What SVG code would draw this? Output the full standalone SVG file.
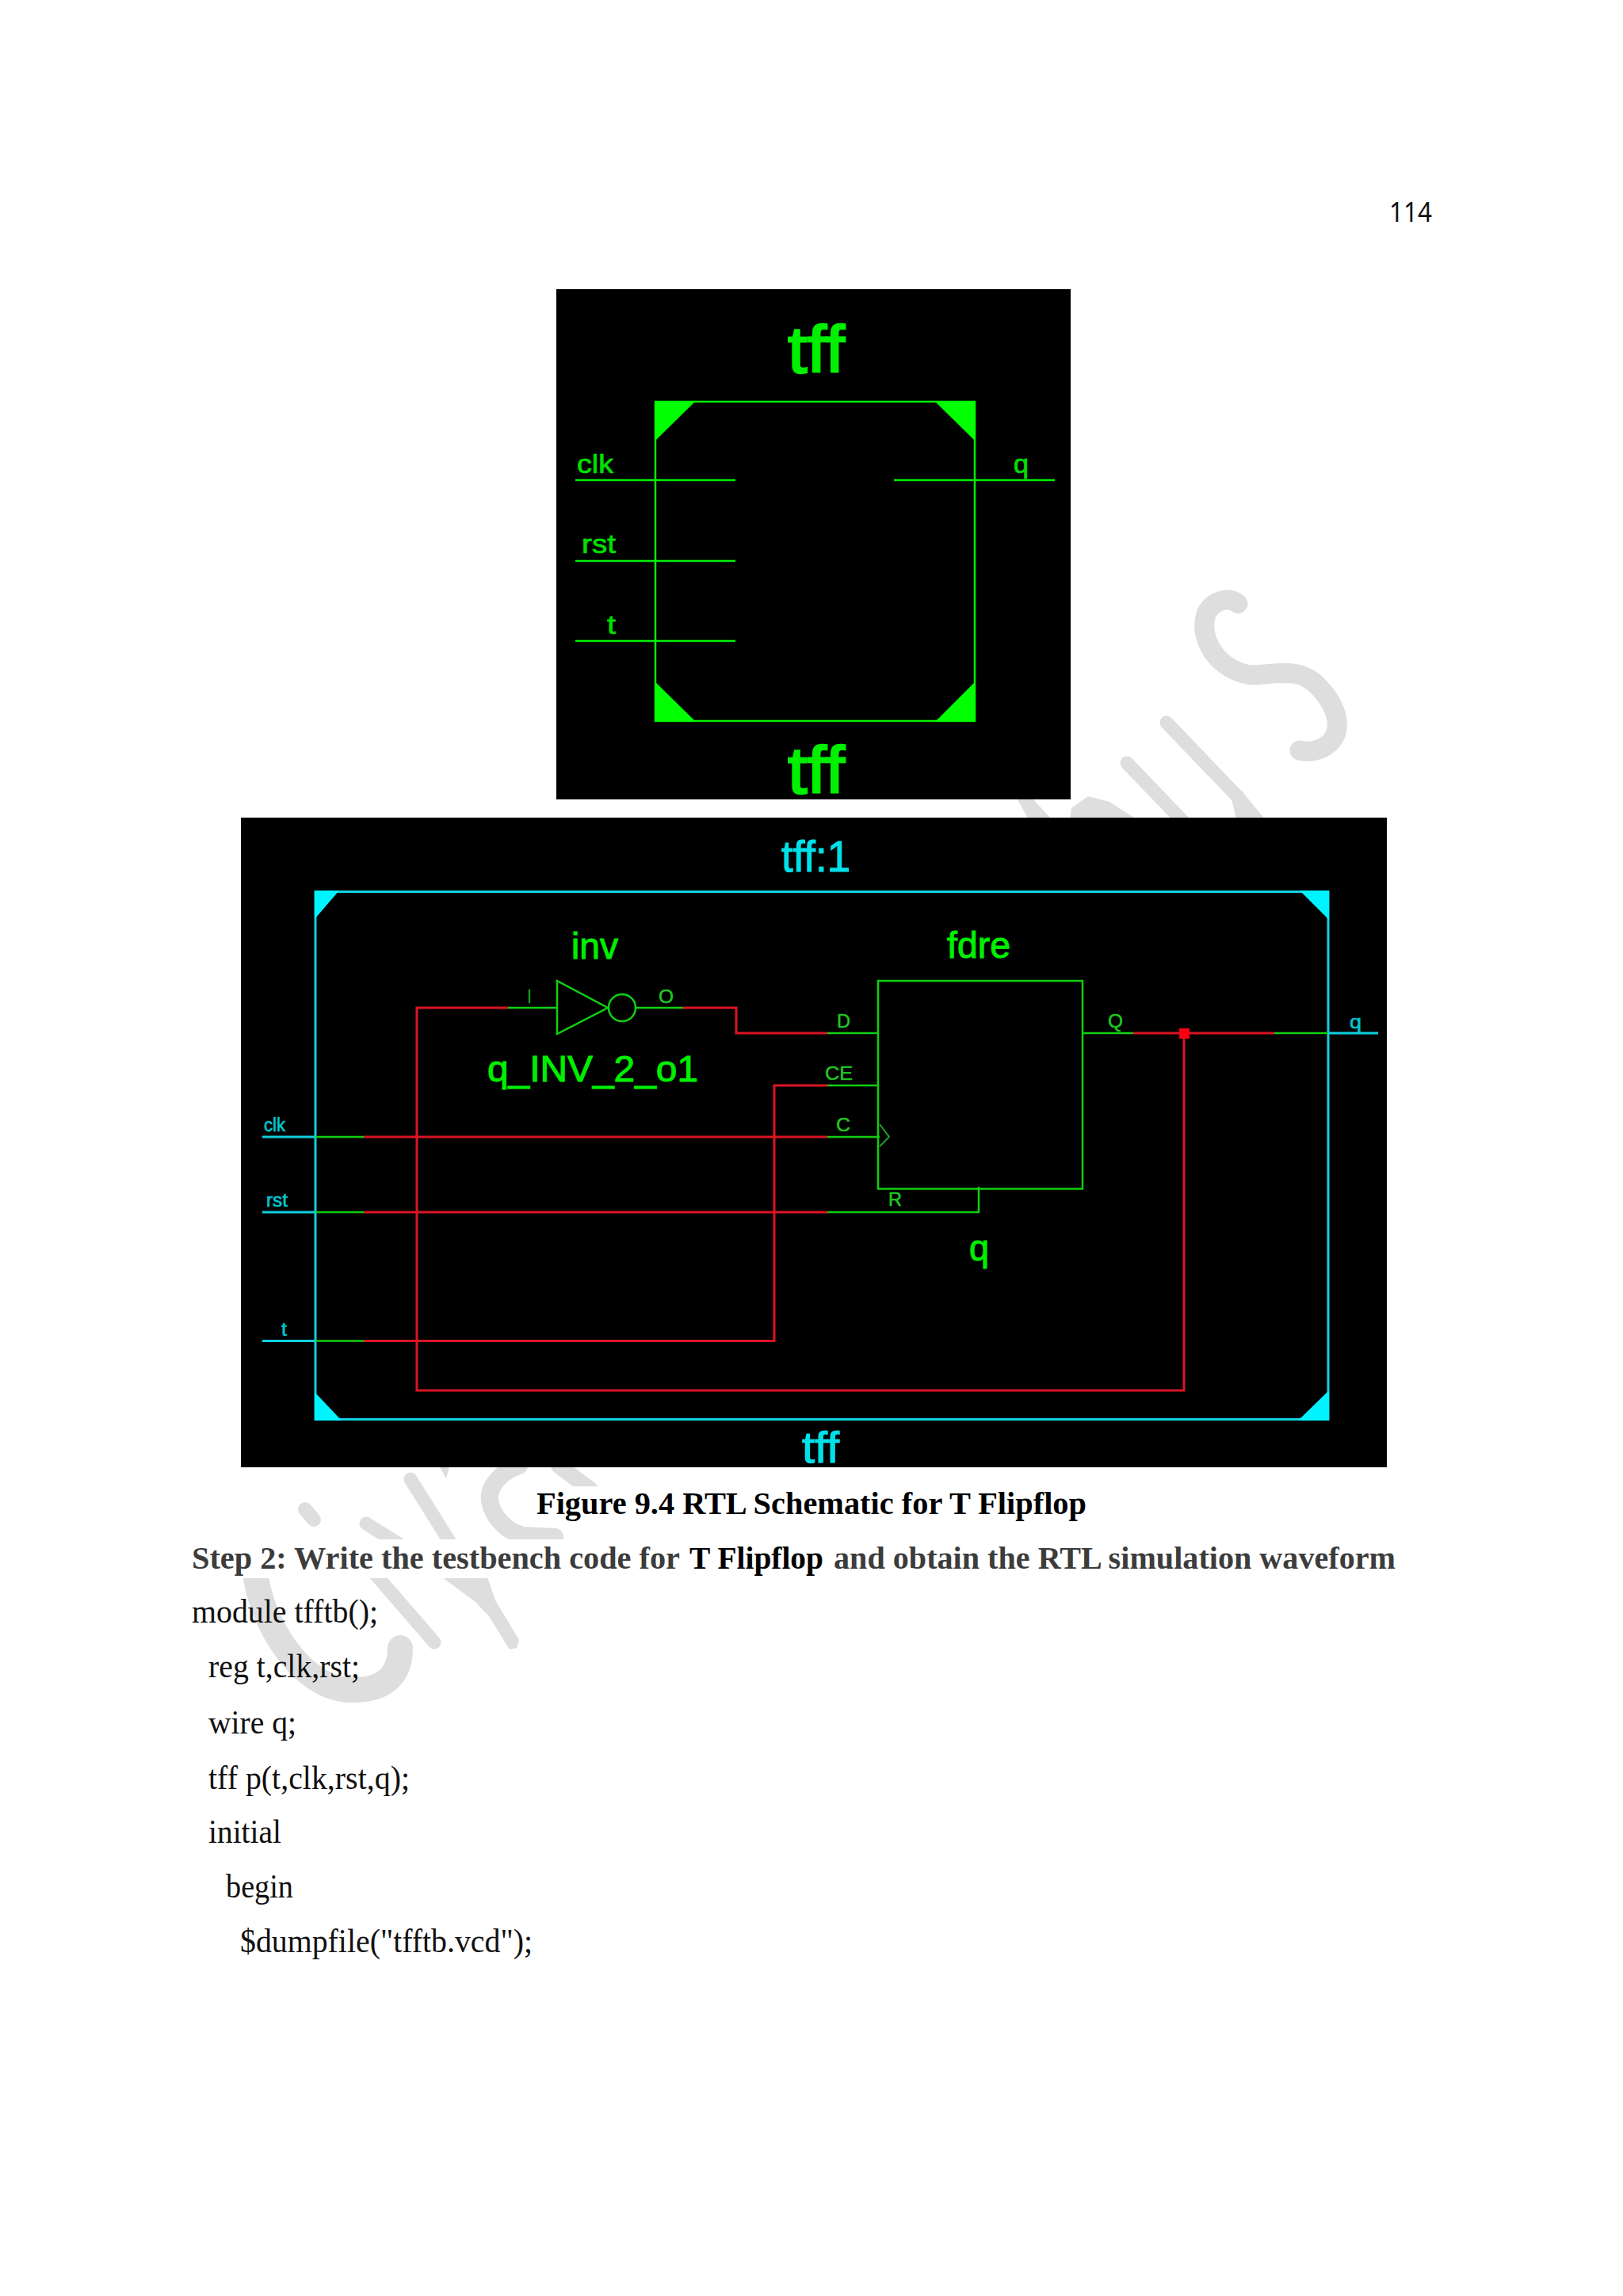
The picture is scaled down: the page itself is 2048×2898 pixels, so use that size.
<svg xmlns="http://www.w3.org/2000/svg" width="2048" height="2898" viewBox="0 0 2048 2898">
<style>
text{font-family:"Liberation Sans",Arial,sans-serif}
.wm{fill:none;stroke:#dedede;stroke-linecap:round;stroke-linejoin:round}
.wmf{fill:#dedede}
.g{fill:#00e000;stroke:#00e000;stroke-width:.7px}
.gb{fill:#00f000;stroke:#00f000;stroke-width:1px}
.big{stroke-width:2.5px}
.c{fill:#00e0e8;stroke:#00e0e8;stroke-width:1.2px}
.cs{fill:#00c8d0;stroke:#00c8d0;stroke-width:.6px}
.ls{fill:#20c820;stroke:#20c820;stroke-width:.5px}
.lg{fill:none;stroke:#10d010;stroke-width:2.5}
.lb{fill:none;stroke:#00f000;stroke-width:2.5}
.lc{fill:none;stroke:#10d0e0;stroke-width:3}
.lr{fill:none;stroke:#dc1424;stroke-width:3}
.fg{fill:#00ff00}
.fc{fill:#00f4ff}
.body{font-family:"Liberation Serif","Times New Roman",serif;font-size:42px;fill:#111}
.bold{font-family:"Liberation Serif","Times New Roman",serif;font-size:39px;font-weight:bold}
</style>
<rect width="2048" height="2898" fill="#fff"/>
<g id="watermark">
<path class="wm" stroke-width="25" d="M1562,762C1550,752 1530,758 1522,775C1512,805 1535,845 1578,852C1610,852 1640,840 1665,868C1690,895 1695,925 1675,940C1665,948 1650,950 1640,947"/>
<path class="wm" stroke-width="17" d="M1472,912L1563,1007L1590,1040M1562,1005L1570,1040"/>
<path class="wm" stroke-width="17" d="M1422,963L1496,1040"/>
<path class="wmf" d="M1350,1034L1352,1020L1373,1005L1400,1012L1434,1034Z"/>
<path class="wmf" d="M1283,1008L1303,1008L1327,1034L1298,1034Z"/>
<path class="wm" stroke-width="18" d="M385,1905L396,1918"/>
<path class="wm" stroke-width="17" d="M462,1923L505,1950M518,1867L570,1950M472,1985L548,2073"/>
<path class="wmf" d="M555,1852L567,1852L563,1866ZM550,1985L613,1985L625,2020L655,2070L652,2080L643,2082L617,2040L600,2022Z"/>
<path class="wm" stroke-width="22" d="M700,1940L660,1938C640,1934 622,1915 618,1895C615,1875 635,1856 655,1850"/>
<path class="wm" stroke-width="20" d="M705,1850L745,1880"/>
<path class="wm" stroke-width="32" d="M322,1985C330,2050 380,2130 440,2133C490,2135 505,2110 505,2080"/>
<rect x="675" y="1876" width="700" height="50" fill="#fff"/>
<rect x="238" y="1943" width="1530" height="49" fill="#fff"/>
</g>
<text id="page-number" x="1753" y="280" font-size="34" style="font-family:'Noto Sans',sans-serif" fill="#111" textLength="54" lengthAdjust="spacingAndGlyphs">114</text>

<g id="tff-symbol">
<rect x="702" y="365" width="649" height="644" fill="#000"/>
<rect class="lb" x="827" y="507" width="403" height="403"/>
<path class="fg" d="M826,506H878L826,557ZM1231,506H1179L1231,557ZM826,911H878L826,860ZM1231,911H1180L1231,860Z"/>
<path class="lb" d="M726,606H928M726,708H928M726,809H928M1128,606H1331"/>
<text class="gb big" x="994" y="470" font-size="84" textLength="72" lengthAdjust="spacingAndGlyphs">tff</text>
<text class="gb big" x="994" y="1001" font-size="84" textLength="72" lengthAdjust="spacingAndGlyphs">tff</text>
<text class="g" x="728" y="597" font-size="34" textLength="46" lengthAdjust="spacingAndGlyphs">clk</text>
<text class="g" x="734" y="698" font-size="34" textLength="43" lengthAdjust="spacingAndGlyphs">rst</text>
<text class="g" x="766" y="800" font-size="34" textLength="11" lengthAdjust="spacingAndGlyphs">t</text>
<text class="g" x="1279" y="597" font-size="34" textLength="19" lengthAdjust="spacingAndGlyphs">q</text>
</g>

<g id="tff-1-background"><rect x="304" y="1032" width="1446" height="820" fill="#000"/></g>
<g id="tff-1-frame">
<rect class="lc" x="398" y="1125.5" width="1278" height="666"/>
<path class="fc" d="M397,1124H428L397,1160ZM1677,1124H1640L1677,1161ZM397,1793H431L397,1757ZM1677,1793H1638L1677,1755Z"/>
<text class="c" x="986" y="1100" font-size="56" textLength="87" lengthAdjust="spacingAndGlyphs">tff:1</text>
<text class="c" x="1012" y="1846" font-size="56" textLength="47" lengthAdjust="spacingAndGlyphs">tff</text>
</g>
<g id="connectors">
<path class="lc" stroke-width="2.5" d="M331,1435H398M331,1530H398M331,1692.500H398M1676,1304H1739"/>
<path class="lg" d="M398,1435H459M398,1530H459M398,1692.500H459M641,1272H703M802,1272H862M1044,1304H1108M1044,1370H1108M1044,1435H1110M1044,1530H1235V1498M1366,1304H1430M1608,1304H1676"/>
<path class="lr" d="M459,1435H1044M459,1530H1044M459,1692.500H977V1370H1044M641,1272H526V1755H1494V1304M862,1272H929V1304H1044M1430,1304H1608"/>
<rect id="junction" x="1488" y="1298" width="13" height="13" fill="#f80010"/>
</g>
<g id="port-clk"><text class="cs" x="333" y="1428" font-size="23" textLength="27" lengthAdjust="spacingAndGlyphs">clk</text></g>
<g id="port-rst"><text class="cs" x="336" y="1523" font-size="23" textLength="27" lengthAdjust="spacingAndGlyphs">rst</text></g>
<g id="port-t"><text class="cs" x="355" y="1686" font-size="23" textLength="7" lengthAdjust="spacingAndGlyphs">t</text></g>
<g id="port-q"><text class="cs" x="1703" y="1298" font-size="24" textLength="15" lengthAdjust="spacingAndGlyphs">q</text></g>
<g id="inv">
<path class="lg" d="M703,1238V1305L767,1272Z"/>
<circle class="lg" cx="785" cy="1272" r="17"/>
<text class="gb" x="721" y="1210" font-size="46" textLength="59" lengthAdjust="spacingAndGlyphs">inv</text>
<text class="gb" x="615" y="1365" font-size="46" textLength="266" lengthAdjust="spacingAndGlyphs">q_INV_2_o1</text>
<text class="ls" x="666" y="1266" font-size="24" textLength="4" lengthAdjust="spacingAndGlyphs">I</text>
<text class="ls" x="831" y="1266" font-size="24" textLength="19" lengthAdjust="spacingAndGlyphs">O</text>
</g>
<g id="fdre">
<rect class="lg" x="1108" y="1238" width="258" height="262.500"/>
<path fill="none" stroke="#20a020" stroke-width="2" d="M1110,1419L1122,1435L1110,1447"/>
<text class="gb" x="1195" y="1209" font-size="46" textLength="80" lengthAdjust="spacingAndGlyphs">fdre</text>
<text class="gb" x="1223" y="1591" font-size="46" textLength="25" lengthAdjust="spacingAndGlyphs">q</text>
<text class="ls" x="1056" y="1297" font-size="24" textLength="17" lengthAdjust="spacingAndGlyphs">D</text>
<text class="ls" x="1041" y="1363" font-size="24" textLength="35" lengthAdjust="spacingAndGlyphs">CE</text>
<text class="ls" x="1055" y="1428" font-size="24" textLength="18" lengthAdjust="spacingAndGlyphs">C</text>
<text class="ls" x="1121" y="1522" font-size="24" textLength="17" lengthAdjust="spacingAndGlyphs">R</text>
<text class="ls" x="1398" y="1297" font-size="24" textLength="19" lengthAdjust="spacingAndGlyphs">Q</text>
</g>

<text class="bold" x="677" y="1911" fill="#000" textLength="694" lengthAdjust="spacingAndGlyphs">Figure 9.4 RTL Schematic for T Flipflop</text>
<text class="bold" x="242" y="1980" fill="#3c3c3c" textLength="616" lengthAdjust="spacingAndGlyphs">Step 2: Write the testbench code for</text>
<text class="bold" x="870" y="1980" fill="#000" textLength="169" lengthAdjust="spacingAndGlyphs">T Flipflop</text>
<text class="bold" x="1052" y="1980" fill="#3c3c3c" textLength="709" lengthAdjust="spacingAndGlyphs">and obtain the RTL simulation waveform</text>
<text class="body" x="242" y="2048" textLength="235" lengthAdjust="spacingAndGlyphs">module tfftb();</text>
<text class="body" x="263" y="2117" textLength="191" lengthAdjust="spacingAndGlyphs">reg t,clk,rst;</text>
<text class="body" x="263" y="2188" textLength="111" lengthAdjust="spacingAndGlyphs">wire q;</text>
<text class="body" x="263" y="2258" textLength="254" lengthAdjust="spacingAndGlyphs">tff p(t,clk,rst,q);</text>
<text class="body" x="263" y="2326" textLength="92" lengthAdjust="spacingAndGlyphs">initial</text>
<text class="body" x="285" y="2395" textLength="85" lengthAdjust="spacingAndGlyphs">begin</text>
<text class="body" x="303" y="2464" textLength="369" lengthAdjust="spacingAndGlyphs">$dumpfile("tfftb.vcd");</text>
</svg>
